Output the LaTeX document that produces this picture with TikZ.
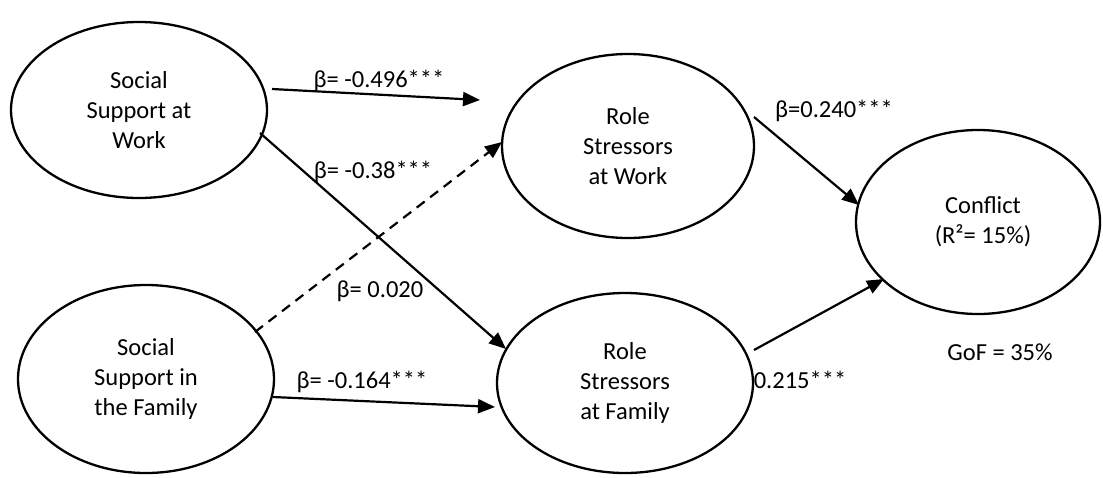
\documentclass[tikz,border=0pt]{standalone}
\usepackage{fontspec}
\setmainfont{Carlito}
\usetikzlibrary{shapes.geometric,arrows.meta,calc}
\begin{document}
\begin{tikzpicture}[x=1pt,y=-1pt,
  every node/.style={font=\fontsize{24.5}{30}\selectfont},
  construct/.style={ellipse,draw,line width=2.3pt,inner sep=0pt,outer sep=0pt,align=center},
  lbl/.style={inner sep=0pt},
  path/.style={line width=2.2pt,-{Triangle[length=17pt,width=14pt]}},
  nspath/.style={path,dash pattern=on 10pt off 7pt}]
\useasboundingbox (0,0) rectangle (1103,477);
% constructs
\node[construct,minimum width=256pt,minimum height=176pt] (ssw) at (139,110) {Social\\Support at\\Work};
\node[construct,minimum width=252pt,minimum height=184pt] (rsw) at (628,146) {Role\\Stressors\\at Work};
\node[construct,minimum width=256pt,minimum height=188pt] (ssf) at (146,379) {Social\\Support in\\the Family};
\node[construct,minimum width=256pt,minimum height=180pt] (rsf) at (625,383) {Role\\Stressors\\at Family};
\node[construct,minimum width=244pt,minimum height=184pt] (con) at (978,222) {\hspace*{10pt}Conflict\\\hspace*{10pt}(R²= 15\%)};
% paths
\draw[path] ($(ssw.center)+(133,-21)$) -- ($(rsw.center)+(-148,-46)$);
\draw[path] ($(ssw.center)+(121,23)$) -- ($(rsf.center)+(-119,-34)$);
\draw[nspath] ($(ssf.center)+(109,-47)$) -- ($(rsw.center)+(-126,-4)$);
\draw[path] ($(ssf.center)+(127,18)$) -- ($(rsf.center)+(-130,24)$);
\draw[path] ($(rsw.center)+(126,-29)$) -- ($(con.center)+(-119,-17)$);
\draw[path] ($(rsf.center)+(129,-33)$) -- ($(con.center)+(-94,57)$);
% labels
\node[lbl] (l1) at (379,81) {β= -0.496***};
\node[lbl] (l2) at (373,172) {β= -0.38***};
\node[lbl] (l3) at (380,291) {β= 0.020};
\node[lbl] (l4) at (362,382) {β= -0.164***};
\node[lbl] (l5) at (834,111) {β=0.240***};
\node[lbl] (l6) at (800,380) {0.215***};
\node[lbl] (gof) at (1000,352) {GoF = 35\%};
\end{tikzpicture}
\end{document}
